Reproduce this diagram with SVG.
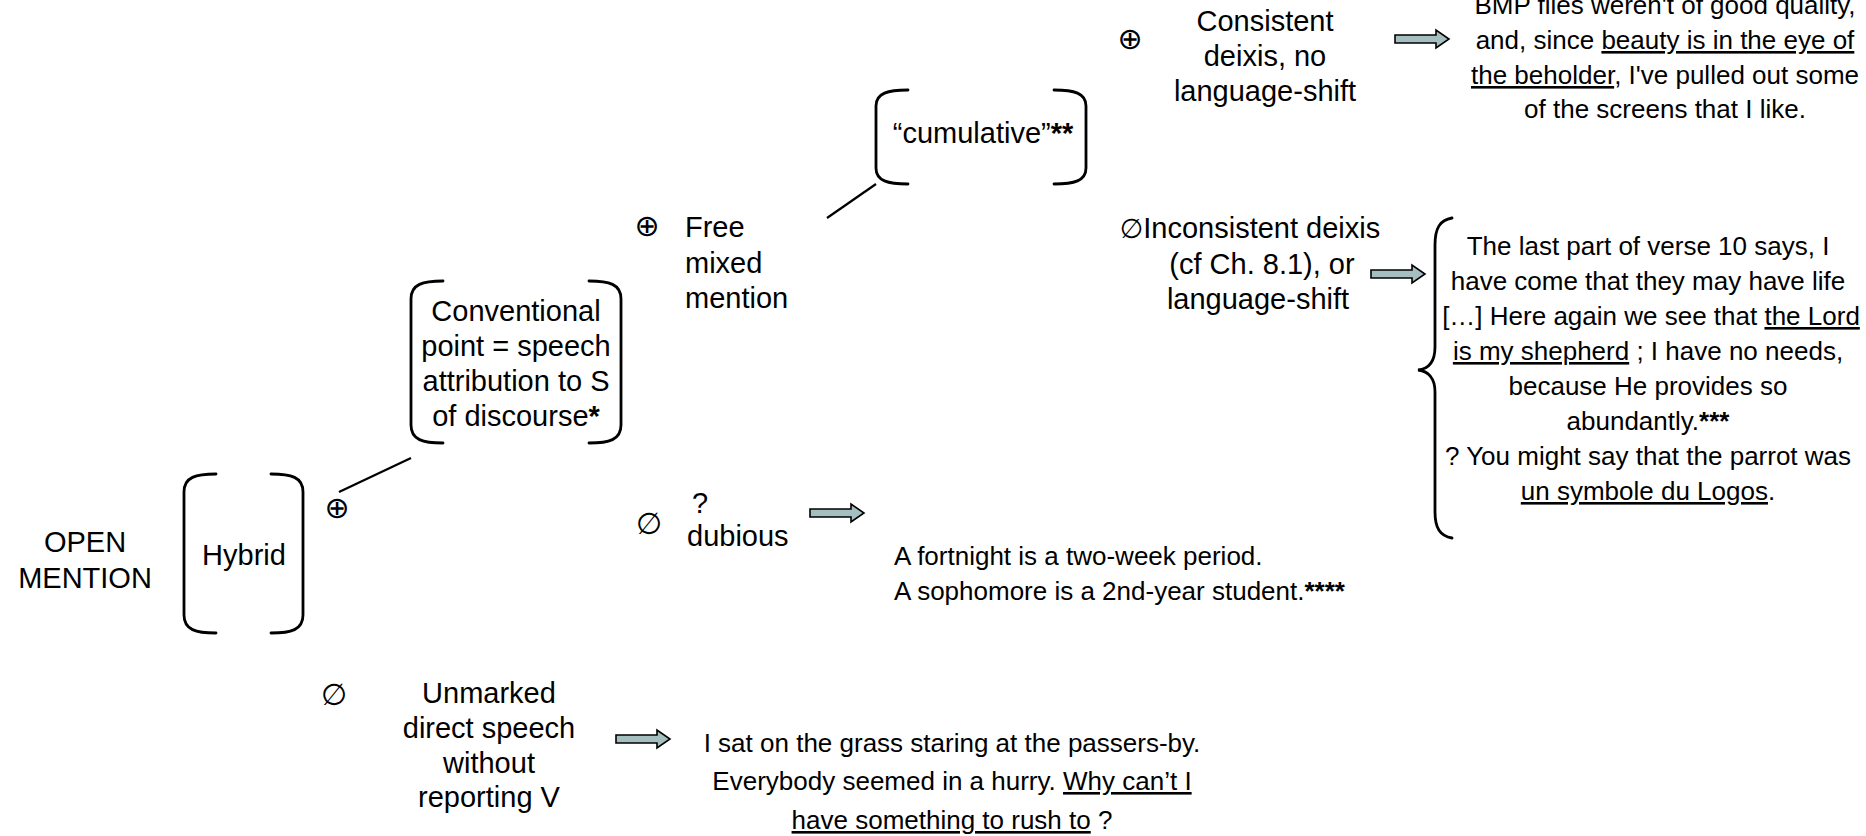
<svg xmlns="http://www.w3.org/2000/svg" width="1866" height="836" viewBox="0 0 1866 836">
<style>
.t{font-family:"Liberation Sans",Arial,sans-serif;font-size:29px;fill:#000}
.e{font-size:26px}
.c{text-anchor:middle}
.sym{font-family:"DejaVu Sans","Liberation Sans",sans-serif;font-size:30px;fill:#000;text-anchor:middle}
.br{fill:none;stroke:#000;stroke-width:2.8;stroke-linecap:round}
.ln{stroke:#000;stroke-width:2.2}
.b{font-weight:bold}
.u{text-decoration:underline}
</style>
<defs>
<path id="arr" d="M0,-4 H41 V-9 L54,0 L41,9 V4 H0 Z" fill="#a5bec0" stroke="#000" stroke-width="1.6" stroke-linejoin="miter"/>
</defs>
<rect width="1866" height="836" fill="#fff"/>

<g id="open-mention">
<text class="t c" x="85" y="552" font-size="30">OPEN</text>
<text class="t c" x="85" y="588" font-size="30">MENTION</text>
</g>

<g id="hybrid">
<path class="br" d="M216,474 C196,474 184,477 184,492 L184,615 C184,630 196,633 216,633"/>
<path class="br" d="M271,474 C291,474 303,477 303,492 L303,615 C303,630 291,633 271,633"/>
<text class="t c" x="244" y="565">Hybrid</text>
</g>

<g id="conventional">
<text class="sym" x="337" y="518">⊕</text>
<path class="br" d="M443,281 C423,281 411,284 411,299 L411,425 C411,440 423,443 443,443"/>
<path class="br" d="M589,281 C609,281 621,284 621,299 L621,425 C621,440 609,443 589,443"/>
<text class="t c" x="516" y="321">Conventional</text>
<text class="t c" x="516" y="356">point = speech</text>
<text class="t c" x="516" y="391">attribution to S</text>
<text class="t c" x="516" y="426">of discourse<tspan class="b">*</tspan></text>
</g>

<g id="free-mixed">
<text class="sym" x="647" y="236">⊕</text>
<text class="t" x="685" y="237">Free</text>
<text class="t" x="685" y="273">mixed</text>
<text class="t" x="685" y="308">mention</text>
</g>

<g id="cumulative">
<path class="br" d="M908,90 C888,90 876,93 876,106 L876,168 C876,181 888,184 908,184"/>
<path class="br" d="M1054,90 C1074,90 1086,93 1086,106 L1086,168 C1086,181 1074,184 1054,184"/>
<text class="t c" x="983" y="143">“cumulative”<tspan class="b">**</tspan></text>
</g>

<g id="consistent">
<text class="sym" x="1130" y="49">⊕</text>
<text class="t c" x="1265" y="31">Consistent</text>
<text class="t c" x="1265" y="66">deixis, no</text>
<text class="t c" x="1265" y="101">language-shift</text>
</g>

<g id="ex-consistent">
<text class="t e c" x="1665" y="14">BMP files weren't of good quality,</text>
<text class="t e c" x="1665" y="49">and, since <tspan class="u">beauty is in the eye of</tspan></text>
<text class="t e c" x="1665" y="84"><tspan class="u">the beholder</tspan>, I've pulled out some</text>
<text class="t e c" x="1665" y="118">of the screens that I like.</text>
</g>

<g id="inconsistent">
<text class="t c" x="1250" y="238"><tspan font-family="DejaVu Sans" font-size="27">∅</tspan>Inconsistent deixis</text>
<text class="t c" x="1262" y="274">(cf Ch. 8.1), or</text>
<text class="t c" x="1258" y="309">language-shift</text>
</g>

<g id="ex-inconsistent">
<path class="br" stroke-width="2.4" d="M1452,218 C1440,220 1435,228 1435,245 L1435,347 C1435,362 1428,369 1418,370 C1428,371 1435,378 1435,392 L1435,512 C1435,528 1440,536 1452,538"/>
<text class="t e c" x="1648" y="255">The last part of verse 10 says, I</text>
<text class="t e c" x="1648" y="290">have come that they may have life</text>
<text class="t e c" x="1651" y="325">[…] Here again we see that <tspan class="u">the Lord</tspan></text>
<text class="t e c" x="1648" y="360"><tspan class="u">is my shepherd</tspan> ; I have no needs,</text>
<text class="t e c" x="1648" y="395">because He provides so</text>
<text class="t e c" x="1648" y="430">abundantly.<tspan class="b">***</tspan></text>
<text class="t e c" x="1648" y="465">? You might say that the parrot was</text>
<text class="t e c" x="1648" y="500"><tspan class="u">un symbole du Logos</tspan>.</text>
</g>

<g id="dubious">
<text class="sym" x="649" y="534">∅</text>
<text class="t" x="692" y="513">?</text>
<text class="t" x="687" y="546">dubious</text>
</g>

<g id="ex-dubious">
<text class="t e" x="894" y="565">A fortnight is a two-week period.</text>
<text class="t e" x="894" y="600">A sophomore is a 2nd-year student.<tspan class="b">****</tspan></text>
</g>

<g id="unmarked">
<text class="sym" x="334" y="705">∅</text>
<text class="t c" x="489" y="703">Unmarked</text>
<text class="t c" x="489" y="738">direct speech</text>
<text class="t c" x="489" y="773">without</text>
<text class="t c" x="489" y="807">reporting V</text>
</g>

<g id="ex-unmarked">
<text class="t e c" x="952" y="752">I sat on the grass staring at the passers-by.</text>
<text class="t e c" x="952" y="790">Everybody seemed in a hurry. <tspan class="u">Why can’t I</tspan></text>
<text class="t e c" x="952" y="829"><tspan class="u">have something to rush to</tspan> ?</text>
</g>

<g id="connectors">
<line class="ln" x1="339" y1="492" x2="411" y2="458"/>
<line class="ln" x1="827" y1="218" x2="876" y2="184"/>
<use href="#arr" x="1395" y="39"/>
<use href="#arr" x="1371" y="274"/>
<use href="#arr" x="810" y="513"/>
<use href="#arr" x="616" y="739"/>
</g>
</svg>
